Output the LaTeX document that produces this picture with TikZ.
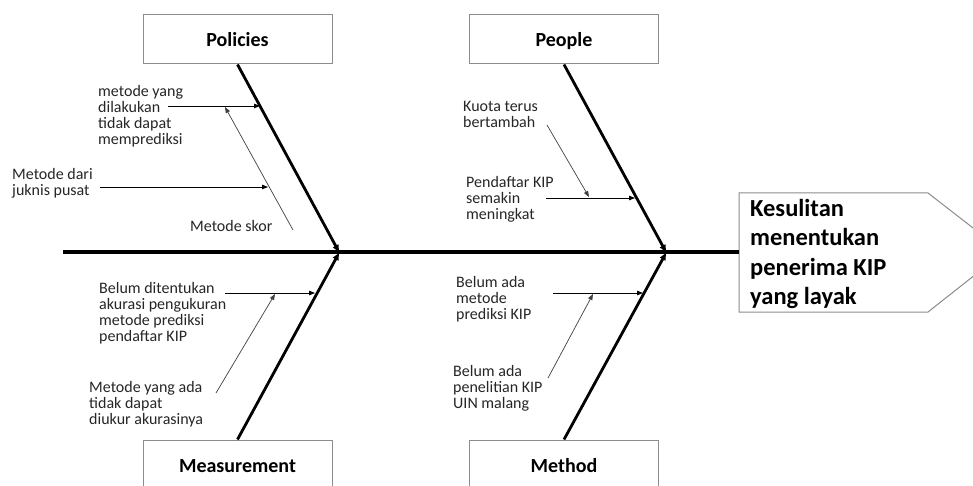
\documentclass[tikz,border=0pt]{standalone}
\usepackage{fontspec}
\setmainfont{Carlito}
\usetikzlibrary{arrows.meta}
\begin{document}
\begin{tikzpicture}[x=1pt,y=-1pt,
  catbox/.style={draw=black!45,line width=1pt,minimum width=189pt,minimum height=49pt,
    inner sep=0pt,text height=15pt,text depth=0pt,font=\fontsize{20}{24}\selectfont\bfseries},
  cause/.style={inner sep=0pt,anchor=base west,align=left,text=black!85,
    font=\fontsize{16}{16}\selectfont},
  bone/.style={line width=2.8pt,-{Triangle[length=7pt,width=6pt]}},
  spineline/.style={line width=3.5pt},
  sub/.style={line width=0.9pt,-{Triangle[length=6pt,width=4.5pt]}},
  subthin/.style={line width=0.7pt,draw=black!75,-{Triangle[length=6pt,width=4.5pt]}}]
\clip (0,0) rectangle (973,486);
\fill[white] (0,0) rectangle (973,486);

% category boxes
\node[catbox] (pol) at (237.5,39.5) {Policies};
\node[catbox] (peo) at (564,39.5) {People};
\node[catbox] (mea) at (237.5,464.5) {Measurement};
\node[catbox] (met) at (564,464.5) {Method};

% effect (head); multi-line nodes sit on the baseline of their last line
\coordinate (hw) at (739,252);
\draw[black!45,line width=1pt] (739,193) -- (928,193) -- (1004,252) -- (928,312) -- (739,312) -- cycle;
\node[inner sep=0pt,anchor=base west,align=left,font=\fontsize{24.5}{29.5}\selectfont\bfseries]
  (head) at (750,304.5) {Kesulitan\\menentukan\\penerima KIP\\yang layak};

% spine
\coordinate (tail) at (63,252);
\draw[spineline] (tail) -- (hw);

% main bones
\coordinate (jp) at (339,252);
\coordinate (jq) at (666,252);
\draw[bone] (pol.south) -- (jp);
\draw[bone] (peo.south) -- (jq);
\draw[bone] (mea.north) -- (339,253);
\draw[bone] (met.north) -- (666,253);

% Policies causes
\node[cause] (p1) at (98,145) {metode yang\\dilakukan\\tidak dapat\\memprediksi};
\node[cause] (p2) at (12,196) {Metode dari\\juknis pusat};
\node[cause] (p3) at (190,232) {Metode skor};
\coordinate (p1s) at (168,106);
\coordinate (p1e) at (260,106);
\coordinate (p3s) at (293,230);
\coordinate (p3e) at (225,107);
\coordinate (p2s) at (100,187);
\coordinate (p2e) at (268,187);
\draw[sub] (p1s) -- (p1e);
\draw[subthin] (p3s) -- (p3e);
\draw[sub] (p2s) -- (p2e);

% People causes
\node[cause] (q1) at (463,128) {Kuota terus\\bertambah};
\node[cause] (q2) at (466,219) {Pendaftar KIP\\semakin\\meningkat};
\coordinate (q1s) at (547,125);
\coordinate (q1e) at (589,197);
\coordinate (q2s) at (546,198);
\coordinate (q2e) at (635,198);
\draw[sub] (q2s) -- (q2e);
\draw[subthin] (q1s) -- (q1e);

% Measurement causes
\node[cause] (m1) at (99,341) {Belum ditentukan\\akurasi pengukuran\\metode prediksi\\pendaftar KIP};
\node[cause] (m2) at (89,424) {Metode yang ada\\tidak dapat\\diukur akurasinya};
\coordinate (m1s) at (225,293);
\coordinate (m1e) at (315,293);
\coordinate (m2s) at (216,393);
\coordinate (m2e) at (275,294);
\draw[sub] (m1s) -- (m1e);
\draw[subthin] (m2s) -- (m2e);

% Method causes
\node[cause] (t1) at (456,319) {Belum ada\\metode\\prediksi KIP};
\node[cause] (t2) at (453,408) {Belum ada\\penelitian KIP\\UIN malang};
\coordinate (t1s) at (553,293);
\coordinate (t1e) at (643,293);
\coordinate (t2s) at (548,378);
\coordinate (t2e) at (593,294);
\draw[sub] (t1s) -- (t1e);
\draw[subthin] (t2s) -- (t2e);
\end{tikzpicture}
\end{document}
